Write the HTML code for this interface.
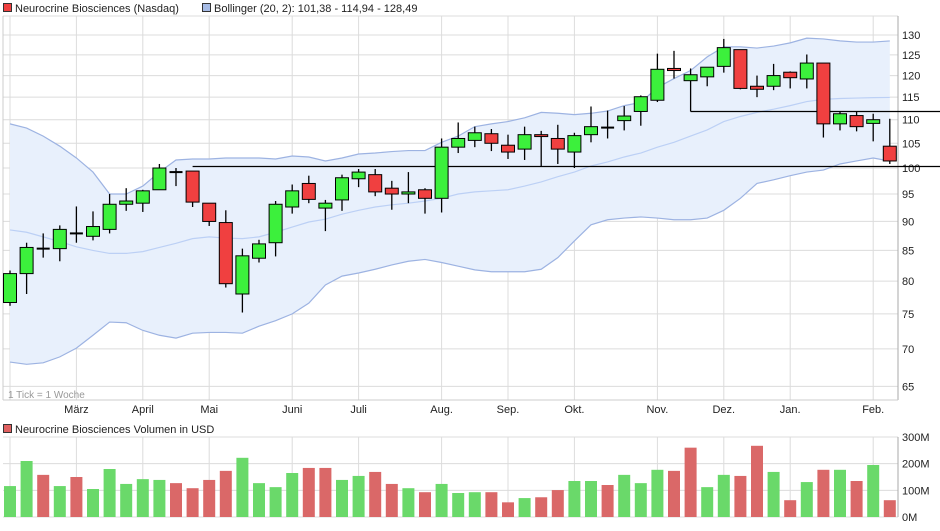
<!DOCTYPE html>
<html><head><meta charset="utf-8"><style>
body{margin:0;background:#fff;font-family:"Liberation Sans",sans-serif;}
svg text{font-family:"Liberation Sans",sans-serif;}
</style></head><body>
<svg id="c" width="940" height="526" xmlns="http://www.w3.org/2000/svg"></svg>
<script>
const opens=[76.7,81.2,85.3,85.3,87.9,87.4,88.6,93.1,93.3,95.8,99.2,99.4,93.3,89.8,78,83.7,86.3,92.6,97,92.4,93.9,97.9,98.7,96.1,95,95.8,94.2,104.2,105.6,107,104.6,103.8,106.8,106,103.2,106.8,108.3,109.8,111.8,114.3,121.7,118.8,119.7,122.2,126.3,117.5,117.5,120.8,119.2,123,109.1,110.9,109.2,104.4];
const closes=[81.2,85.5,85.3,88.6,87.9,89.1,93.1,93.7,95.6,100,99.2,93.5,90,79.6,84.1,86.1,93.1,95.6,94,93.3,98.1,99.2,95.4,95,95.4,94.2,104.2,106,107.2,105,103.2,106.8,106.4,103.8,106.6,108.5,108.3,110.8,115.1,121.5,121.2,120.2,122,126.8,117,116.8,120,119.5,123,109.1,111.3,108.5,110,101.4];
const highs=[81.7,86.3,87.9,89.3,92.7,91.8,95,96.1,95.8,100.8,100,99.4,93.3,92,85.3,86.8,93.7,96.8,98.5,93.9,98.7,99.8,99.8,97.5,99.2,96.1,106,109.4,108.5,108,106.8,108.5,107.6,108.9,107.2,112.9,112,113,115.4,125.3,126,121.7,122,129,126.3,120,122.8,121,125.1,123,111.8,111.7,111.3,110.2];
const lows=[76.2,78,83.8,83.2,86.3,86.7,87.9,91.9,91.7,95.8,96.5,92.6,89.2,79,75.2,83,84,91.4,93.3,88.3,91.9,96.3,94.6,92.1,93.3,91.4,91.6,103,104.2,103.4,101.8,101.6,100.4,100.8,100,105.2,106,107.7,108.7,113.9,119.3,111.8,117.5,120.7,116.8,115,116.6,117,117,106.2,107.7,107.5,105.4,100.8];
const bbUpper=[109.1,108.2,106.5,104.4,102,99.2,95,95,96.5,99.2,101.6,101.8,101.8,102,102,102,101.8,102.4,102.2,101.4,102,102.8,103,103.3,103.5,103.5,105.2,106.5,108.5,109.1,109.6,110.4,111.6,111.4,111.1,111.4,111.9,113.1,113.8,117.2,119.3,121.2,124.5,127,127,126.7,127.2,128,129.2,129,128.5,128.2,128.2,128.49];
const bbMiddle=[88.5,88.1,87.3,86.5,85.6,85,84.5,84.5,84.8,85.5,86.2,87,87.3,87.1,87,87.3,88.1,89,89.9,90.4,91.3,92,92.6,93,93.3,93.7,94.2,95,95.4,95.6,95.8,96.5,97.3,98.3,99.2,100.4,101.2,102.2,103,104.2,105.2,106.5,107.8,109.6,110.7,111.6,112.3,113.1,114,114.5,114.7,114.8,114.9,114.94];
const bbLower=[68.2,67.9,68.1,68.9,70.1,71.9,73.8,73.7,72.6,71.9,71.5,72.2,72.3,72.3,72.2,73.2,74,75,76.6,79.4,80.8,81.3,81.9,82.6,83.2,83.5,83,82.4,81.8,81.5,81.5,81.5,81.9,83.8,86.6,89.4,90.3,90.6,90.8,90.6,90.3,90.3,90.6,92,94.2,97,97.7,98.5,99.2,99.6,100.8,101.4,102,101.38];
const volumes=[116,210,158,116,150,105,180,124,142,139,127,108,139,173,222,127,112,165,184,184,139,154,169,124,108,93,124,90,93,93,55,71,74,101,135,135,120,158,127,177,173,260,112,158,154,267,169,63,131,177,177,135,195,63];
const volUp=[1,1,0,1,0,1,1,1,1,1,0,0,0,0,1,1,1,1,0,0,1,1,0,0,1,0,1,1,1,0,0,1,0,0,1,1,0,1,1,1,0,0,1,1,0,0,1,0,1,0,1,0,1,0];
const priceTicks=[65,70,75,80,85,90,95,100,105,110,115,120,125,130];
const monthLabels=["März","April","Mai","Juni","Juli","Aug.","Sep.","Okt.","Nov.","Dez.","Jan.","Feb."];
const monthIdx=[4,8,12,17,21,26,30,34,39,43,47,52];
const volTicks=[0,100,200,300];
const supportLevels=[100.3,111.8];
const supportStart=[11,41];

const svg=document.getElementById('c');
const NS='http://www.w3.org/2000/svg';
function el(t,a,p){const e=document.createElementNS(NS,t);for(const k in a)e.setAttribute(k,a[k]);(p||svg).appendChild(e);return e;}
const xOf=i=>10+i*16.6;
const yOf=p=>35+507*Math.log(130/p);
const vY=v=>517-v*80/300;
const L=3,R=898;

// frame/grid
for(const t of priceTicks){const g=el('line',{x1:L,x2:R,y1:yOf(t),y2:yOf(t),stroke:'#dcdcdc'});


const tx=el('text',{x:902,y:yOf(t)+4,'font-size':11,fill:'#222'});tx.textContent=t;

}
el('line',{x1:L,x2:R,y1:16,y2:16,stroke:'#dcdcdc'});
const vx=[10].concat(monthIdx.map(i=>xOf(i)));
for(const x of vx){el('line',{x1:x,x2:x,y1:16,y2:400,stroke:'#dcdcdc'});el('line',{x1:x,x2:x,y1:437,y2:517,stroke:'#dcdcdc'});}
monthLabels.forEach((m,k)=>{const t=el('text',{x:xOf(monthIdx[k]),y:413,'font-size':11,fill:'#222','text-anchor':'middle'});t.textContent=m;

});
el('line',{x1:L,x2:L,y1:16,y2:400,stroke:'#ccc'});
el('line',{x1:R,x2:R,y1:16,y2:400,stroke:'#aaa'});
el('line',{x1:L,x2:R,y1:400,y2:400,stroke:'#ccc'});
const tk=el('text',{x:8,y:398,'font-size':10,fill:'#999'});tk.textContent='1 Tick = 1 Woche';



// bollinger
let up=bbUpper.map((v,i)=>xOf(i)+','+yOf(v));
let lo=bbLower.map((v,i)=>xOf(i)+','+yOf(v)).reverse();
const band=el('polygon',{points:up.concat(lo).join(' '),fill:'#e8f0fc'});


for(const [arr,c,n] of [[bbUpper,'#9db3e2','bollinger-upper'],[bbLower,'#9db3e2','bollinger-lower'],[bbMiddle,'#bcd0f5','bollinger-middle']]){
const pl=el('polyline',{points:arr.map((v,i)=>xOf(i)+','+yOf(v)).join(' '),fill:'none',stroke:c,'stroke-width':1.2});

}
supportLevels.forEach((s,k)=>{const l=el('line',{x1:xOf(supportStart[k]),x2:940,y1:yOf(s),y2:yOf(s),stroke:'#000','stroke-width':1.2});

});

// candles
opens.forEach((o,i)=>{const c=closes[i],x=xOf(i);
const g=el('g',{});


el('line',{x1:x,x2:x,y1:yOf(highs[i]),y2:yOf(lows[i]),stroke:'#000','stroke-width':1.3},g);
const top=yOf(Math.max(o,c)),bot=yOf(Math.min(o,c));
if(Math.abs(o-c)<0.05){el('rect',{x:x-6.5,y:top-1,width:13,height:2,fill:'#000'},g);}
else el('rect',{x:x-6.5,y:top,width:13,height:Math.max(bot-top,1.5),fill:c>o?'#3cf03c':'#f04040',stroke:'#000','stroke-width':1},g);
});

// legend
const lg=el('g',{});


el('rect',{x:3.5,y:3.5,width:8,height:8,fill:'#f04040',stroke:'#333'},lg);
let t1=el('text',{x:15,y:12,'font-size':11,fill:'#222'},lg);t1.textContent='Neurocrine Biosciences (Nasdaq)';
el('rect',{x:202.5,y:3.5,width:8,height:8,fill:'#a7bce6',stroke:'#333'},lg);
let t2=el('text',{x:214,y:12,'font-size':11,fill:'#222'},lg);t2.textContent='Bollinger (20, 2): 101,38 - 114,94 - 128,49';

// volume
el('rect',{x:3.5,y:424.5,width:8,height:8,fill:'#e06060',stroke:'#333'});
let t3=el('text',{x:15,y:433,'font-size':11,fill:'#222'});t3.textContent='Neurocrine Biosciences Volumen in USD';


for(const v of volTicks){el('line',{x1:L,x2:R,y1:vY(v),y2:vY(v),stroke:'#dcdcdc'});
const t=el('text',{x:902,y:vY(v)+4,'font-size':11,fill:'#222'});t.textContent=v+'M';

}
el('line',{x1:R,x2:R,y1:437,y2:517,stroke:'#aaa'});
volumes.forEach((v,i)=>{const r=el('rect',{x:xOf(i)-6,y:vY(v),width:12,height:517-vY(v),fill:volUp[i]?'#6ad96a':'#da6868'});

});
</script>
</body></html>
